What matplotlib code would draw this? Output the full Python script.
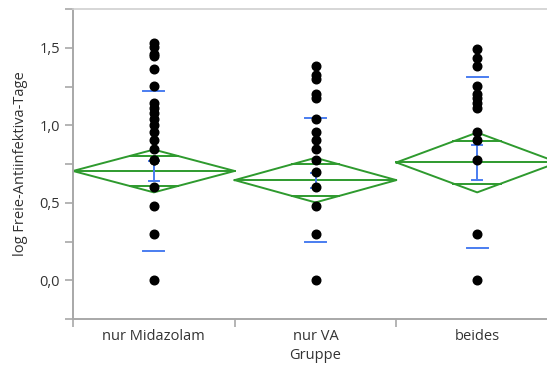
import numpy as np
import matplotlib.pyplot as plt
from matplotlib.ticker import MultipleLocator, FuncFormatter

plt.rcParams['font.family'] = ['Open Sans', 'DejaVu Sans']

# groups and log-transformed antibiotic-free days per patient
groups = ["nur Midazolam", "nur VA", "beides"]
vals_midazolam = [1.531, 1.505, 1.462, 1.447, 1.362, 1.255, 1.146, 1.114, 1.079,
                  1.041, 1.0, 0.954, 0.903, 0.845, 0.778, 0.778, 0.602, 0.477, 0.301, 0.0]
vals_va = [1.380, 1.322, 1.301, 1.204, 1.176, 1.041, 0.954, 0.903, 0.845,
           0.778, 0.699, 0.602, 0.477, 0.301, 0.0]
vals_beides = [1.491, 1.431, 1.380, 1.255, 1.204, 1.176, 1.146, 1.114, 0.954,
               0.903, 0.778, 0.301, 0.0]

# group summaries (means diamonds, std error bars, std dev lines)
means = [0.705, 0.646, 0.760]
ci_half = [0.138, 0.144, 0.193]
std_err = [0.065, 0.048, 0.115]
std_dev = [0.517, 0.398, 0.549]

green = '#2e9a2e'
blue = '#4a7df0'
gray = '#a8a8a8'
txt = '#333333'

fig = plt.figure(figsize=(5.47, 3.67), dpi=100)
ax = fig.add_axes([73 / 547, 48 / 367, 485 / 547, 310 / 367])

all_vals = [vals_midazolam, vals_va, vals_beides]
for i, (m, hw, se, sd) in enumerate(zip(means, ci_half, std_err, std_dev)):
    # means diamond
    dx = [i - 0.5, i, i + 0.5, i, i - 0.5]
    dy = [m, m + hw, m, m - hw, m]
    ax.plot(dx, dy, color=green, lw=1.4, zorder=2)
    ax.plot([i - 0.5, i + 0.5], [m, m], color=green, lw=1.4, zorder=2)
    # overlap marks
    w = 0.5 * (1 - 1 / np.sqrt(2))
    for s in (1, -1):
        ax.plot([i - w, i + w], [m + s * hw / np.sqrt(2)] * 2, color=green, lw=1.4, zorder=2)
    # std error bar
    ax.plot([i, i], [m - se, m + se], color=blue, lw=1.4, zorder=3)
    for s in (1, -1):
        ax.plot([i - 0.03, i + 0.03], [m + s * se] * 2, color=blue, lw=1.4, zorder=3)
    # std dev lines
    for s in (1, -1):
        ax.plot([i - 0.065, i + 0.065], [m + s * sd] * 2, color=blue, lw=1.4, zorder=3)
    # points
    ax.plot([i] * len(all_vals[i]), all_vals[i], 'o', color='black', ms=6.2,
            mec='black', zorder=4)

ax.set_xlim(-0.5, 2.5)
ax.set_ylim(-0.25, 1.75)

ax.yaxis.set_major_locator(MultipleLocator(0.5))
ax.yaxis.set_minor_locator(MultipleLocator(0.25))
ax.yaxis.set_major_formatter(FuncFormatter(lambda v, p: f"{v:.1f}".replace('.', ',')))

ax.set_xticks([0, 1, 2])
ax.set_xticklabels(groups)
ax.set_xticks([-0.5, 0.5, 1.5, 2.5], minor=True)
ax.tick_params(axis='x', which='major', length=0, pad=7, labelsize=10.5, colors=txt)
ax.tick_params(axis='x', which='minor', length=6, width=1.2, color=gray)
ax.tick_params(axis='y', which='both', length=6, width=1.2, color=gray,
               labelsize=10.5, labelcolor=txt)

for side in ('left', 'bottom'):
    ax.spines[side].set_color(gray)
    ax.spines[side].set_linewidth(1.4)
ax.spines['top'].set_color('#d0d0d0')
ax.spines['top'].set_linewidth(1.2)
ax.spines['right'].set_color('#d0d0d0')

ax.set_xlabel("Gruppe", fontsize=10.5, color=txt, labelpad=3)
ax.set_ylabel("log Freie-Antiinfektiva-Tage", fontsize=10.5, color=txt, labelpad=8)

fig.savefig("out.png", dpi=100)
